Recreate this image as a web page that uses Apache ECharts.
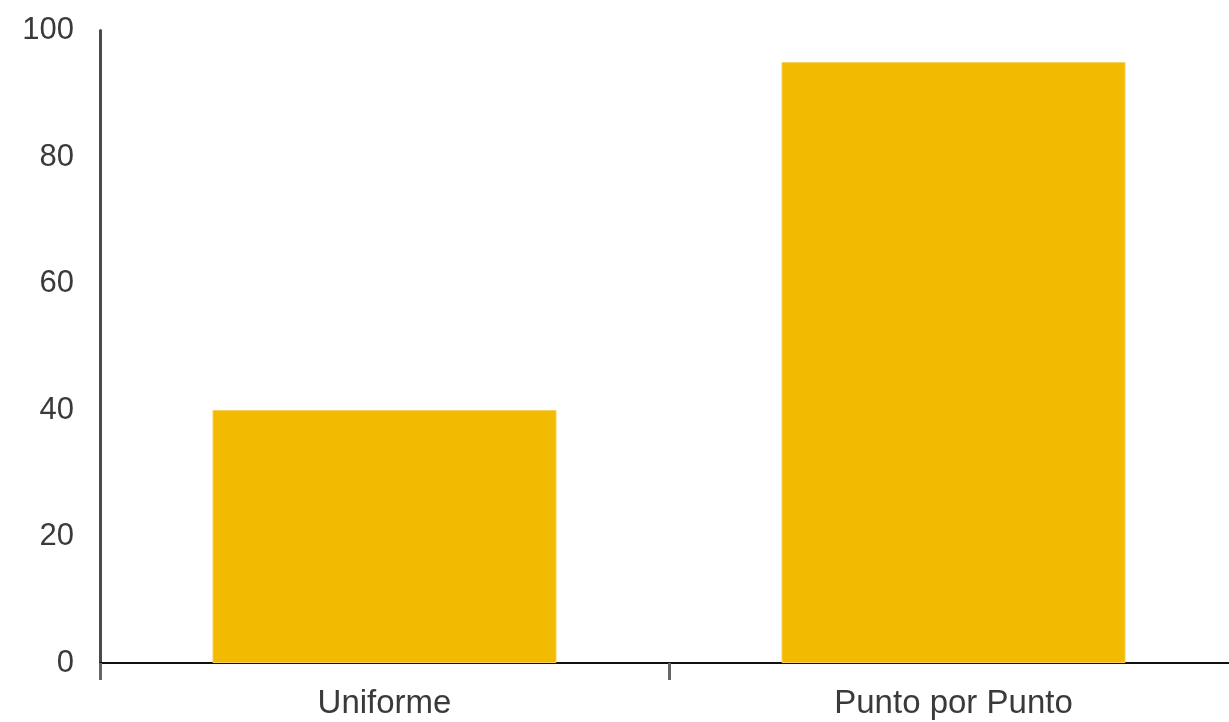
<!DOCTYPE html>
<html>
<head>
<meta charset="utf-8">
<script src="https://cdn.jsdelivr.net/npm/echarts@6/dist/echarts.min.js"></script>
<style>
html,body{margin:0;padding:0;background:#fff;}
#c{width:1229px;height:722px;}
</style>
</head>
<body>
<div id="c"></div>
<script>
const categories = ["Uniforme", "Punto por Punto"];
const values = [40, 95];
const yTicks = [0, 20, 40, 60, 80, 100];

const chart = echarts.init(document.getElementById('c'), null, {renderer: 'canvas'});
chart.setOption({
  animation: false,
  backgroundColor: '#ffffff',
  grid: {left: 100, width: 1138, top: 30.5, bottom: 59, containLabel: false, outerBoundsMode: 'none'},
  xAxis: {
    type: 'category',
    data: categories,
    axisLine: {show: true, lineStyle: {color: '#111111', width: 2}},
    axisTick: {show: true, alignWithLabel: false, length: 17, lineStyle: {color: '#666666', width: 3}},
    axisLabel: {
      color: '#3a3a3a', fontFamily: 'Liberation Sans, Arial, sans-serif',
      fontSize: 33, margin: 24
    },
    splitLine: {show: false}
  },
  yAxis: {
    type: 'value',
    min: yTicks[0], max: yTicks[yTicks.length - 1], interval: 20,
    axisLine: {show: true, onZero: false, lineStyle: {color: '#4a4a4a', width: 3}},
    axisTick: {show: false},
    axisLabel: {
      color: '#3a3a3a', fontFamily: 'Liberation Sans, Arial, sans-serif',
      fontSize: 31, margin: 26
    },
    splitLine: {show: false}
  },
  series: [{
    type: 'bar',
    data: values,
    barWidth: 344,
    itemStyle: {color: '#F2BA00', borderColor: '#F6CE55', borderWidth: 1}
  }]
});
</script>
</body>
</html>
